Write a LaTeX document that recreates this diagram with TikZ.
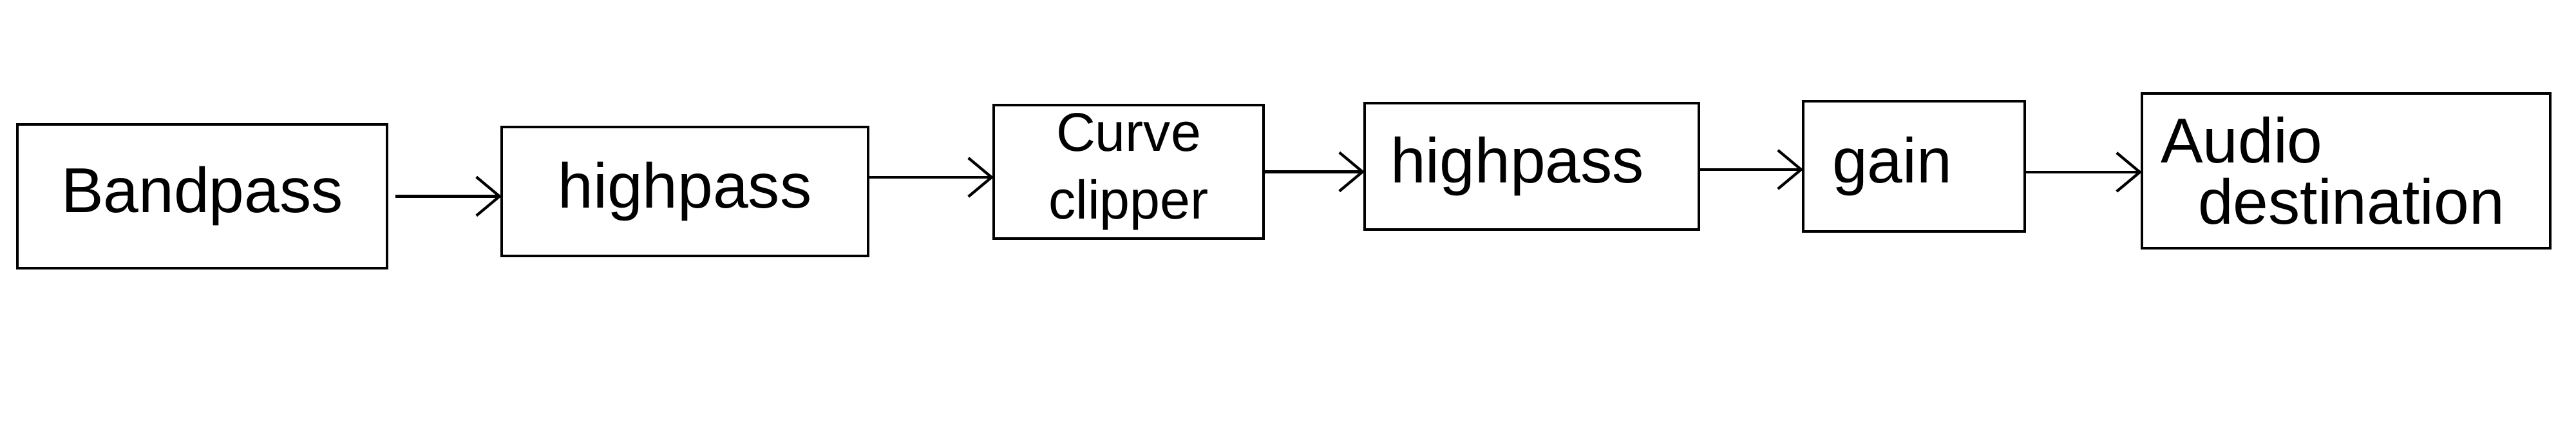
\documentclass[tikz,border=0pt]{standalone}
\usepackage{fontspec}
\setmainfont{Liberation Sans}
\usepackage{tikz}
\usetikzlibrary{arrows.meta, positioning}

\begin{document}
\begin{tikzpicture}[
        block/.style={draw, rectangle, line width=1.2pt, inner sep=0pt, outer sep=0pt, align=center, font=\fontsize{28}{27}\selectfont},
        flow/.style={line width=1.2pt, -{Straight Barb[length=3.6mm, width=6mm, line width=1.2pt]}},
        node distance=0cm
    ]
        \useasboundingbox (0,0) rectangle (40,6.53);
        \node[block, minimum width=5.74cm, minimum height=2.23cm] (bandpass) at (3.14,3.485) {Bandpass};
        \node[block, minimum width=5.69cm, minimum height=2.00cm, right=1.78cm of bandpass, yshift=0.75mm] (hpone) {highpass};
        \node[block, minimum width=4.19cm, minimum height=2.07cm, right=1.95cm of hpone, yshift=3.05mm, font=\fontsize{24}{30}\selectfont] (clipper) {Curve\\clipper};
        \node[block, minimum width=5.19cm, minimum height=1.96cm, right=1.57cm of clipper, yshift=0.85mm, text width=4.39cm, align=left] (hptwo) {highpass};
        \node[block, minimum width=3.44cm, minimum height=2.02cm, right=1.62cm of hptwo, text width=2.54cm, align=left] (gain) {gain};
        \node[block, minimum width=6.34cm, minimum height=2.40cm, right=1.82cm of gain, yshift=-0.7mm, text width=5.76cm, align=left] (output) {Audio\\\hspace*{0.58cm}destination};

        % signal chain
        \draw[flow] ([xshift=1.3mm]bandpass.east) -- (bandpass.east -| hpone.west);
        \draw[flow] ([yshift=2.2mm]hpone.east) -- ([yshift=2.2mm]hpone.east -| clipper.west);
        \draw[flow] (clipper.east) -- (clipper.east -| hptwo.west);
        \draw[flow] ([yshift=-0.5mm]hptwo.east) -- ([yshift=-0.5mm]hptwo.east -| gain.west);
        \draw[flow] ([yshift=-0.9mm]gain.east) -- ([yshift=-0.9mm]gain.east -| output.west);
    \end{tikzpicture}
\end{document}
